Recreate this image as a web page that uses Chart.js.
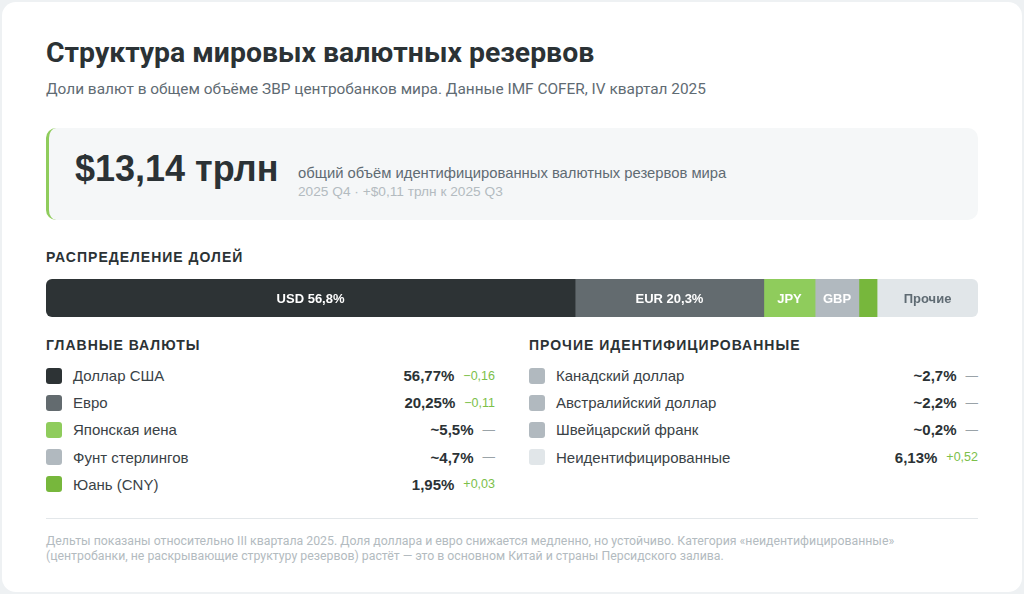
<!DOCTYPE html>
<html lang="ru">
<head>
<meta charset="utf-8">
<title>Структура мировых валютных резервов</title>
<script src="https://cdn.jsdelivr.net/npm/chart.js@4.4.1/dist/chart.umd.min.js"></script>
<style>
  html, body { margin: 0; padding: 0; }
  body { background: #eef1f3; width: 1024px; height: 594px; overflow: hidden; font-family: "Liberation Sans", Arial, sans-serif; color: #2b3235; }
  .card { position: absolute; left: 2px; top: 2px; width: 1020px; height: 590px; background: #fff; border-radius: 14px; }
  .in { position: absolute; left: 44px; width: 932px; }
  h1 { position: absolute; left: 44px; top: 34px; margin: 0; font: 700 28.4px Roboto, sans-serif; color: #2b3235; }
  .sub { position: absolute; left: 44px; top: 78px; margin: 0; font: 400 15.4px Roboto, sans-serif; color: #5f6b73; }
  .kpi { top: 126px; height: 92px; background: #f5f7f8; border-radius: 10px; box-sizing: border-box; border-left: 3px solid #8fcc5c; }
  .kpi .big { position: absolute; left: 26px; top: 20px; font: 700 36px "Liberation Sans", Arial, sans-serif; color: #2b3235; }
  .kpi .d1 { position: absolute; left: 249px; top: 37px; font: 400 14.8px "Liberation Sans", Arial, sans-serif; color: #5f6b73; }
  .kpi .d2 { position: absolute; left: 249px; top: 56px; font: 400 13.7px "Liberation Sans", Arial, sans-serif; color: #b3bbc0; }
  .hd { font: 700 14px "Liberation Sans", Arial, sans-serif; letter-spacing: 1px; color: #2b3235; }
  .barwrap { top: 277px; height: 38px; border-radius: 6px; overflow: hidden; }
  .col { position: absolute; top: 335px; width: 449px; }
  .row { display: flex; align-items: center; height: 27.2px; font-size: 15px; }
  .sw { width: 16px; height: 16px; border-radius: 3px; margin-right: 11px; flex: none; }
  .lb { flex: 1; color: #3a4246; }
  .vl { font-weight: 700; color: #2b3235; }
  .dl { font-size: 12.5px; margin-left: 9px; color: #7cc04a; }
  .dl.flat { color: #9aa3a8; }
  .rule { top: 516px; height: 1px; background: #e3e7ea; }
  .foot { top: 532px; font: 400 12.3px Roboto, sans-serif; line-height: 15px; color: #b3bbc0; }
</style>
</head>
<body>
<div class="card">
  <h1>Структура мировых валютных резервов</h1>
  <p class="sub">Доли валют в общем объёме ЗВР центробанков мира. Данные IMF COFER, IV квартал 2025</p>
  <div class="in kpi">
    <div class="big">$13,14 трлн</div>
    <div class="d1">общий объём идентифицированных валютных резервов мира</div>
    <div class="d2">2025 Q4 · +$0,11 трлн к 2025 Q3</div>
  </div>
  <div class="in hd" style="top:247px">РАСПРЕДЕЛЕНИЕ ДОЛЕЙ</div>
  <div class="in barwrap"><canvas id="bar"></canvas></div>
  <div class="col" style="left:44px">
    <div class="hd" style="margin-bottom:9px">ГЛАВНЫЕ ВАЛЮТЫ</div>
    <div id="mainRows"></div>
  </div>
  <div class="col" style="left:527px">
    <div class="hd" style="margin-bottom:9px">ПРОЧИЕ ИДЕНТИФИЦИРОВАННЫЕ</div>
    <div id="otherRows"></div>
  </div>
  <div class="in rule"></div>
  <div class="in foot">Дельты показаны относительно III квартала 2025. Доля доллара и евро снижается медленно, но устойчиво. Категория «неидентифицированные»<br>(центробанки, не раскрывающие структуру резервов) растёт — это в основном Китай и страны Персидского залива.</div>
</div>
<script>
// stacked bar segments (% of reserves)
var segNames = ['USD', 'EUR', 'JPY', 'GBP', 'CNY', 'Прочие'];
var segValues = [56.77, 20.25, 5.5, 4.7, 1.95, 10.83];
var segLabels = ['USD 56,8%', 'EUR 20,3%', 'JPY', 'GBP', '', 'Прочие'];
var segColors = ['#2d3335', '#636b6f', '#8fcc5c', '#b1b9bf', '#77b73c', '#e1e6e9'];
var segText = ['#ffffff', '#ffffff', '#ffffff', '#ffffff', '#ffffff', '#5f6b73'];

// legend lists
var mainNames = ['Доллар США', 'Евро', 'Японская иена', 'Фунт стерлингов', 'Юань (CNY)'];
var mainShares = ['56,77%', '20,25%', '~5,5%', '~4,7%', '1,95%'];
var mainDeltas = ['−0,16', '−0,11', '—', '—', '+0,03'];
var mainColors = ['#2d3335', '#636b6f', '#8fcc5c', '#b1b9bf', '#77b73c'];

var otherNames = ['Канадский доллар', 'Австралийский доллар', 'Швейцарский франк', 'Неидентифицированные'];
var otherShares = ['~2,7%', '~2,2%', '~0,2%', '6,13%'];
var otherDeltas = ['—', '—', '—', '+0,52'];
var otherColors = ['#b1b9bf', '#b1b9bf', '#b1b9bf', '#e1e6e9'];

function fillRows(id, names, shares, deltas, colors) {
  var box = document.getElementById(id);
  names.forEach(function(n, i) {
    var r = document.createElement('div');
    r.className = 'row';
    r.innerHTML = '<span class="sw" style="background:' + colors[i] + '"></span>' +
      '<span class="lb">' + n + '</span>' +
      '<span class="vl">' + shares[i] + '</span>' +
      '<span class="dl' + (deltas[i] === '—' ? ' flat' : '') + '">' + deltas[i] + '</span>';
    box.appendChild(r);
  });
}
fillRows('mainRows', mainNames, mainShares, mainDeltas, mainColors);
fillRows('otherRows', otherNames, otherShares, otherDeltas, otherColors);

// labels drawn in the middle of each segment
var segLabelPlugin = {
  id: 'segLabels',
  afterDatasetsDraw: function(chart) {
    var ctx = chart.ctx;
    ctx.save();
    ctx.font = '700 13px "Liberation Sans", Arial, sans-serif';
    ctx.textAlign = 'center';
    ctx.textBaseline = 'middle';
    chart.data.datasets.forEach(function(ds, i) {
      var el = chart.getDatasetMeta(i).data[0];
      if (!el || !segLabels[i]) return;
      ctx.fillStyle = segText[i];
      ctx.fillText(segLabels[i], (el.x + el.base) / 2, el.y + 1);
    });
    ctx.restore();
  }
};

new Chart(document.getElementById('bar'), {
  type: 'bar',
  data: {
    labels: ['Доли'],
    datasets: segNames.map(function(n, i) {
      return {
        label: n,
        data: [segValues[i]],
        backgroundColor: segColors[i],
        borderWidth: 0,
        barPercentage: 1,
        categoryPercentage: 1
      };
    })
  },
  options: {
    indexAxis: 'y',
    responsive: true,
    maintainAspectRatio: false,
    animation: false,
    layout: { padding: 0 },
    plugins: { legend: { display: false }, tooltip: { enabled: false } },
    scales: {
      x: { stacked: true, display: false, min: 0, max: 100 },
      y: { stacked: true, display: false }
    }
  },
  plugins: [segLabelPlugin]
});
</script>
</body>
</html>
